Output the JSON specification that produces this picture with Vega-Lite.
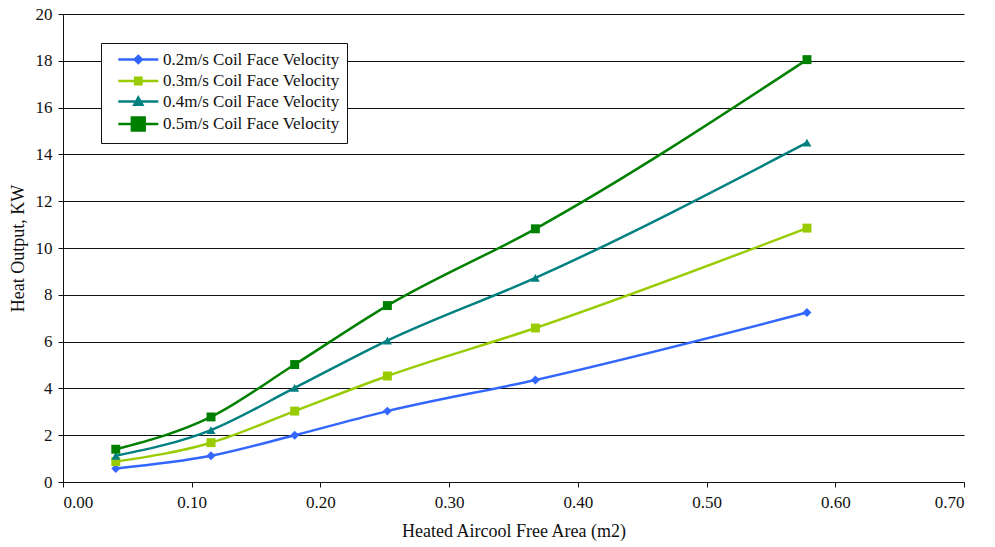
{
  "$schema": "https://vega.github.io/schema/vega-lite/v6.json",
  "width": 901,
  "height": 468,
  "autosize": {"type": "none"},
  "padding": {"left": 63, "top": 14, "right": 31, "bottom": 65},
  "background": "white",
  "config": {
    "view": {"stroke": null},
    "font": "Liberation Serif",
    "text": {"font": "Liberation Serif"},
    "axis": {"labelFont": "Liberation Serif", "titleFont": "Liberation Serif", "labelFontSize": 17, "titleFontSize": 18, "titleFontWeight": "normal", "labelColor": "#111", "titleColor": "#111", "domainColor": "#111", "tickColor": "#111", "gridColor": "#111", "gridWidth": 1, "tickSize": 5},
    "legend": {"labelFont": "Liberation Serif", "titleFont": "Liberation Serif"}
  },
  "data": {"values": [
    {"x": 0.041, "y": 0.58, "Series": "0.2m/s Coil Face Velocity"},
    {"x": 0.115, "y": 1.12, "Series": "0.2m/s Coil Face Velocity"},
    {"x": 0.18, "y": 2.0, "Series": "0.2m/s Coil Face Velocity"},
    {"x": 0.252, "y": 3.03, "Series": "0.2m/s Coil Face Velocity"},
    {"x": 0.367, "y": 4.36, "Series": "0.2m/s Coil Face Velocity"},
    {"x": 0.578, "y": 7.24, "Series": "0.2m/s Coil Face Velocity"},
    {"x": 0.041, "y": 0.87, "Series": "0.3m/s Coil Face Velocity"},
    {"x": 0.115, "y": 1.68, "Series": "0.3m/s Coil Face Velocity"},
    {"x": 0.18, "y": 3.03, "Series": "0.3m/s Coil Face Velocity"},
    {"x": 0.252, "y": 4.53, "Series": "0.3m/s Coil Face Velocity"},
    {"x": 0.367, "y": 6.58, "Series": "0.3m/s Coil Face Velocity"},
    {"x": 0.578, "y": 10.85, "Series": "0.3m/s Coil Face Velocity"},
    {"x": 0.041, "y": 1.12, "Series": "0.4m/s Coil Face Velocity"},
    {"x": 0.115, "y": 2.22, "Series": "0.4m/s Coil Face Velocity"},
    {"x": 0.18, "y": 4.02, "Series": "0.4m/s Coil Face Velocity"},
    {"x": 0.252, "y": 6.04, "Series": "0.4m/s Coil Face Velocity"},
    {"x": 0.367, "y": 8.72, "Series": "0.4m/s Coil Face Velocity"},
    {"x": 0.578, "y": 14.5, "Series": "0.4m/s Coil Face Velocity"},
    {"x": 0.041, "y": 1.4, "Series": "0.5m/s Coil Face Velocity"},
    {"x": 0.115, "y": 2.78, "Series": "0.5m/s Coil Face Velocity"},
    {"x": 0.18, "y": 5.02, "Series": "0.5m/s Coil Face Velocity"},
    {"x": 0.252, "y": 7.54, "Series": "0.5m/s Coil Face Velocity"},
    {"x": 0.367, "y": 10.82, "Series": "0.5m/s Coil Face Velocity"},
    {"x": 0.578, "y": 18.05, "Series": "0.5m/s Coil Face Velocity"}
  ]},
  "encoding": {
    "x": {"field": "x", "type": "quantitative", "scale": {"domain": [0, 0.7], "nice": false}, "axis": {"values": [0, 0.1, 0.2, 0.3, 0.4, 0.5, 0.6, 0.7], "format": ".2f", "grid": false, "title": "Heated Aircool Free Area (m2)", "titlePadding": 12, "labelPadding": 7, "labelFont": "Liberation Serif", "titleFont": "Liberation Serif"}},
    "y": {"field": "y", "type": "quantitative", "scale": {"domain": [0, 20], "nice": false}, "axis": {"values": [0, 2, 4, 6, 8, 10, 12, 14, 16, 18, 20], "grid": true, "title": "Heat Output, KW", "titlePadding": 8, "labelPadding": 6, "labelFont": "Liberation Serif", "titleFont": "Liberation Serif"}}
  },
  "layer": [
    {
      "mark": {"type": "line", "interpolate": "monotone", "strokeWidth": 2.5},
      "encoding": {
        "color": {"field": "Series", "type": "nominal", "scale": {"range": ["#3366FF", "#99CC00", "#008080", "#008000"]},
          "legend": {
            "title": null, "orient": "none", "legendX": 38, "legendY": 29,
            "strokeColor": "#111", "fillColor": "white", "padding": 7,
            "labelFont": "Liberation Serif", "labelFontSize": 17, "labelColor": "#111", "labelLimit": 400,
            "symbolSize": 256, "labelOffset": 36, "rowPadding": 2.5,
            "encode": {"symbols": {"update": {
              "shape": {"signal": "indexof(datum.value, '0.2') == 0 ? 'M0.1,0H5.1M2.6,-0.45L3.05,0L2.6,0.45L2.15,0Z' : indexof(datum.value, '0.3') == 0 ? 'M0.1,0H5.1M2.2,-0.4H3V0.4H2.2Z' : indexof(datum.value, '0.4') == 0 ? 'M0.1,0H5.1M2.6,-0.5L3.1,0.4H2.1Z' : 'M0.1,0H5.1M1.8,-0.8H3.4V0.8H1.8Z'"},
              "fill": {"scale": "color", "field": "value"},
              "stroke": {"scale": "color", "field": "value"},
              "strokeWidth": {"value": 2.5},
              "opacity": {"value": 1}
            }}}
          }
        }
      }
    },
    {
      "mark": {"type": "point", "filled": true, "opacity": 1},
      "encoding": {
        "color": {"field": "Series", "type": "nominal"},
        "shape": {"field": "Series", "type": "nominal", "scale": {"range": ["diamond", "square", "triangle-up", "square"]}, "legend": null},
        "size": {"field": "Series", "type": "nominal", "scale": {"range": [80, 80, 80, 200]}, "legend": null}
      }
    }
  ]
}
